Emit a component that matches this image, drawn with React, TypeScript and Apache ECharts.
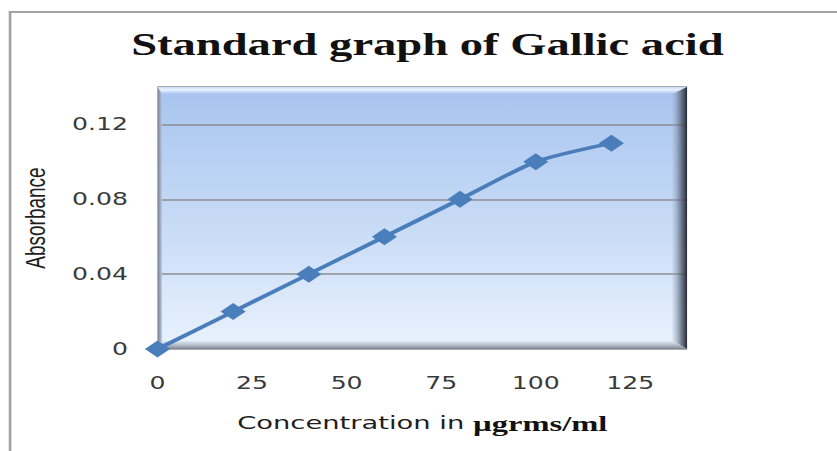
import React, { useEffect, useRef } from "react";
import * as echarts from "echarts";

// Data
const concentration = [0, 20, 40, 60, 80, 100, 120];
const absorbance = [0, 0.02, 0.04, 0.06, 0.08, 0.1, 0.11];

const titleText = "Standard graph of Gallic acid";
const yAxisTitle = "Absorbance";
const xAxisTitleSans = "Concentration in ";
const xAxisTitleSerif = "µgrms/ml";

// The reference is horizontally stretched; draw narrower and stretch.
const PAGE_W = 837;
const PAGE_H = 451;
const INNER_W = 566;
const STRETCH = PAGE_W / INNER_W;

// plot rect (inner coordinates)
const L = 106.5;
const R = 464.6;
const T = 87;
const B = 349;

export default function App() {
  const ref = useRef<HTMLDivElement>(null);

  useEffect(() => {
    if (!ref.current) return;
    const chart = echarts.init(ref.current, undefined, { renderer: "svg" });
    const lb = 3;
    const tb = 7;
    const rb = 10;
    const bb = 8;
    const option: any = {
      animation: false,
      title: {
        text: titleText,
        left: 284,
        top: 24,
        textAlign: "center",
        textStyle: {
          fontFamily: "Liberation Serif",
          fontWeight: "bold",
          fontSize: 31.5,
          color: "#111111",
        },
      },
      grid: {
        left: L,
        top: T,
        width: R - L,
        height: B - T,
        show: false,
      },
      graphic: [
        // outer frame lines
        {
          type: "polyline",
          z: 1,
          shape: { points: [[6.8, PAGE_H], [6.8, 12], [INNER_W, 12]] },
          style: { stroke: "#a3a3a3", lineWidth: 1.8, fill: null },
        },
        // plot background
        {
          type: "rect",
          z: -5,
          shape: { x: L, y: T, width: R - L, height: B - T },
          style: {
            fill: new echarts.graphic.LinearGradient(0, 0, 0, 1, [
              { offset: 0, color: "#a8c4ef" },
              { offset: 0.5, color: "#c6daf6" },
              { offset: 1, color: "#e9f2fd" },
            ]),
          },
        },
        // top bevel
        {
          type: "polygon",
          z: 1,
          shape: { points: [[L, T], [R, T], [R - rb, T + tb], [L + lb, T + tb]] },
          style: {
            fill: new echarts.graphic.LinearGradient(0, 0, 0, 1, [
              { offset: 0, color: "#c5d9f7" },
              { offset: 0.4, color: "#eaf3ff" },
              { offset: 1, color: "#aac5ef" },
            ]),
          },
        },
        // right bevel
        {
          type: "polygon",
          z: 1,
          shape: { points: [[R, T], [R, B], [R - rb, B - bb], [R - rb, T + tb]] },
          style: {
            fill: new echarts.graphic.LinearGradient(0, 0, 1, 0, [
              { offset: 0, color: "rgba(150,165,190,0.15)" },
              { offset: 0.6, color: "rgba(80,90,110,0.75)" },
              { offset: 1, color: "#262a31" },
            ]),
          },
        },
        // bottom bevel
        {
          type: "polygon",
          z: 1,
          shape: { points: [[L, B], [R, B], [R - rb, B - bb], [L + lb, B - bb]] },
          style: {
            fill: new echarts.graphic.LinearGradient(0, 0, 0, 1, [
              { offset: 0, color: "#dfe8f5" },
              { offset: 0.5, color: "#b5bfcc" },
              { offset: 1, color: "#7e838b" },
            ]),
          },
        },
        // left bevel
        {
          type: "polygon",
          z: 1,
          shape: { points: [[L, T], [L + lb, T + tb], [L + lb, B - bb], [L, B]] },
          style: {
            fill: new echarts.graphic.LinearGradient(0, 0, 1, 0, [
              { offset: 0, color: "#7a7e85" },
              { offset: 1, color: "#b3c8e8" },
            ]),
          },
        },
      ],
      xAxis: {
        type: "value",
        min: 0,
        max: 140,
        interval: 25,
        axisLine: { show: false },
        axisTick: { show: false },
        splitLine: { show: false },
        axisLabel: {
          showMaxLabel: false,
          margin: 26,
          fontFamily: "DejaVu Sans",
          fontSize: 17,
          color: "#3a3a3a",
        },
        name: `{a|${xAxisTitleSans}}{b|${xAxisTitleSerif}}`,
        nameLocation: "middle",
        nameGap: 63,
        nameTextStyle: {
          rich: {
            a: { fontFamily: "DejaVu Sans", fontSize: 18.5, color: "#1e1e1e" },
            b: {
              fontFamily: "Liberation Serif",
              fontWeight: "bold",
              fontSize: 22,
              color: "#111111",
            },
          },
        },
      },
      yAxis: {
        type: "value",
        min: 0,
        max: 0.14,
        interval: 0.04,
        axisLine: { show: false },
        axisTick: { show: false },
        splitLine: { show: true, lineStyle: { color: "#8e8e8e", width: 1.5 } },
        axisLabel: {
          showMaxLabel: false,
          margin: 20,
          fontFamily: "DejaVu Sans",
          fontSize: 17,
          color: "#3a3a3a",
          formatter: (v: number) => (v === 0 ? "0" : v.toFixed(2)),
        },
        name: yAxisTitle,
        nameLocation: "middle",
        nameGap: 73,
        nameTextStyle: {
          fontFamily: "Liberation Sans",
          fontSize: 19,
          color: "#1e1e1e",
        },
      },
      series: [
        {
          type: "line",
          z: 3,
          data: concentration.map((c, i) => [c, absorbance[i]]),
          smooth: 0.25,
          symbol: "diamond",
          symbolSize: 17,
          lineStyle: { color: "#4a7ebb", width: 3.5 },
          itemStyle: { color: "#4a7ebb" },
        },
      ],
    };
    chart.setOption(option);
    return () => chart.dispose();
  }, []);

  return (
    <div
      style={{
        position: "absolute",
        left: 0,
        top: 0,
        width: PAGE_W,
        height: PAGE_H,
        overflow: "hidden",
        background: "#ffffff",
      }}
    >
      <div
        ref={ref}
        style={{
          width: INNER_W,
          height: PAGE_H,
          transform: `scaleX(${STRETCH})`,
          transformOrigin: "0 0",
        }}
      />
    </div>
  );
}
